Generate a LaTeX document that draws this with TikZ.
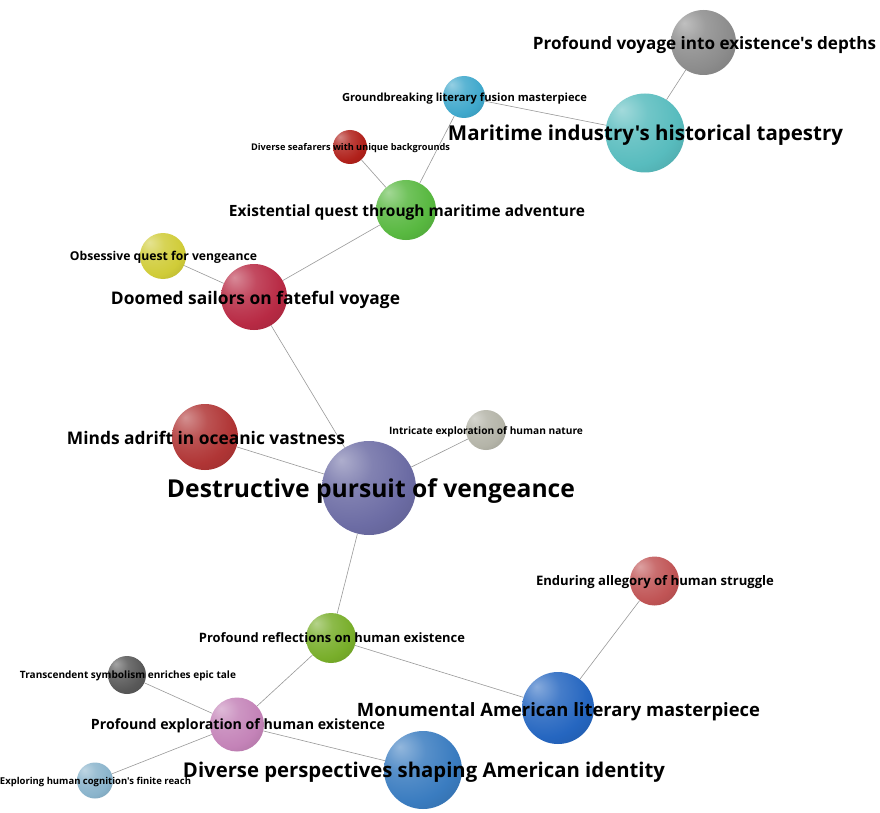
\documentclass[tikz,border=0pt]{standalone}
\usepackage{fontspec}
\setmainfont{Open Sans}[Ligatures=TeXOff]
\usetikzlibrary{backgrounds}
\colorlet{spherecol}{gray}
\pgfdeclareradialshading[spherecol]{sphere}{\pgfpoint{-15bp}{15bp}}{%
  color(0bp)=(spherecol!55!white);
  color(14bp)=(spherecol!85!white);
  color(30bp)=(spherecol);
  color(55bp)=(spherecol!76!black);
  color(80bp)=(spherecol!62!black)}
\newcommand{\lbltext}[2]{\resizebox{#1pt}{!}{\bfseries #2}}
\tikzset{
  sph/.style 2 args={circle, inner sep=0pt, minimum size=#2pt,
    /utils/exec={\colorlet{spherecol}{#1}}, shading=sphere},
  lbl/.style={anchor=base, inner sep=0pt},
  link/.style={draw=black!40, line width=0.6pt}
}
\definecolor{c1}{HTML}{8C8C8C}
\definecolor{c2}{HTML}{58BCBE}
\definecolor{c3}{HTML}{3FA8CC}
\definecolor{c4}{HTML}{B0201A}
\definecolor{c5}{HTML}{58B840}
\definecolor{c6}{HTML}{D0CC38}
\definecolor{c7}{HTML}{B82A44}
\definecolor{c8}{HTML}{B03535}
\definecolor{c9}{HTML}{B4B4A8}
\definecolor{c10}{HTML}{6C6CA4}
\definecolor{c11}{HTML}{C05455}
\definecolor{c12}{HTML}{78AE2A}
\definecolor{c13}{HTML}{585858}
\definecolor{c14}{HTML}{2566C0}
\definecolor{c15}{HTML}{C483B8}
\definecolor{c16}{HTML}{3A7CC0}
\definecolor{c17}{HTML}{8AB4CC}
\begin{document}
\begin{tikzpicture}[x=1pt,y=-1pt]
\useasboundingbox (0,0) rectangle (880,813);
% spheres
\node[sph={c1}{65}]  (n1)  at (703.5,42.5) {};
\node[sph={c2}{79}]  (n2)  at (645,133) {};
\node[sph={c3}{42}]  (n3)  at (464,97) {};
\node[sph={c4}{34}]  (n4)  at (350,147) {};
\node[sph={c5}{60}]  (n5)  at (406,210) {};
\node[sph={c6}{46}]  (n6)  at (163,256) {};
\node[sph={c7}{66}]  (n7)  at (254,297) {};
\node[sph={c8}{66}]  (n8)  at (205,437) {};
\node[sph={c9}{40}]  (n9)  at (486,430) {};
\node[sph={c10}{94}] (n10) at (369,488) {};
\node[sph={c11}{49}] (n11) at (654.5,581) {};
\node[sph={c12}{50}] (n12) at (331,638) {};
\node[sph={c13}{38}] (n13) at (127,675) {};
\node[sph={c14}{72}] (n14) at (558,708) {};
\node[sph={c15}{54}] (n15) at (237,724.5) {};
\node[sph={c16}{78}] (n16) at (423,770) {};
\node[sph={c17}{36}] (n17) at (95,780.5) {};
% links
\begin{scope}[on background layer]
\fill[white] (0,0) rectangle (880,813);
\draw[link] (n1) -- (n2);
\draw[link] (n3) -- (n2);
\draw[link] (n3) -- (n5);
\draw[link] (n4) -- (n5);
\draw[link] (n5) -- (n7);
\draw[link] (n6) -- (n7);
\draw[link] (n7) -- (n10);
\draw[link] (n8) -- (n10);
\draw[link] (n9) -- (n10);
\draw[link] (n10) -- (n12);
\draw[link] (n12) -- (n15);
\draw[link] (n12) -- (n14);
\draw[link] (n11) -- (n14);
\draw[link] (n13) -- (n15);
\draw[link] (n15) -- (n16);
\draw[link] (n15) -- (n17);
\end{scope}
% labels
\node[lbl] (t1)  at (704.5,49.2) {\lbltext{343}{Profound voyage into existence's depths}};
\node[lbl] (t2)  at (645.5,140.1) {\lbltext{395}{Maritime industry's historical tapestry}};
\node[lbl] (t3)  at (464.5,101.1) {\lbltext{245}{Groundbreaking literary fusion masterpiece}};
\node[lbl] (t4)  at (350.5,150.4) {\lbltext{199}{Diverse seafarers with unique backgrounds}};
\node[lbl] (t5)  at (407,216.6) {\lbltext{356}{Existential quest through maritime adventure}};
\node[lbl] (t6)  at (163.5,260.5) {\lbltext{187}{Obsessive quest for vengeance}};
\node[lbl] (t7)  at (255.5,304.3) {\lbltext{289}{Doomed sailors on fateful voyage}};
\node[lbl] (t8)  at (206,444.1) {\lbltext{278}{Minds adrift in oceanic vastness}};
\node[lbl] (t9)  at (486,434.7) {\lbltext{194}{Intricate exploration of human nature}};
\node[lbl] (t10) at (371,497.9) {\lbltext{408}{Destructive pursuit of vengeance}};
\node[lbl] (t11) at (655,585.8) {\lbltext{238}{Enduring allegory of human struggle}};
\node[lbl] (t12) at (332,642.8) {\lbltext{266}{Profound reflections on human existence}};
\node[lbl] (t13) at (128,678.7) {\lbltext{216}{Transcendent symbolism enriches epic tale}};
\node[lbl] (t14) at (558.5,716) {\lbltext{403}{Monumental American literary masterpiece}};
\node[lbl] (t15) at (238,729.3) {\lbltext{294}{Profound exploration of human existence}};
\node[lbl] (t16) at (424,777.3) {\lbltext{482}{Diverse perspectives shaping American identity}};
\node[lbl] (t17) at (95.5,784.3) {\lbltext{191}{Exploring human cognition's finite reach}};
\end{tikzpicture}
\end{document}
